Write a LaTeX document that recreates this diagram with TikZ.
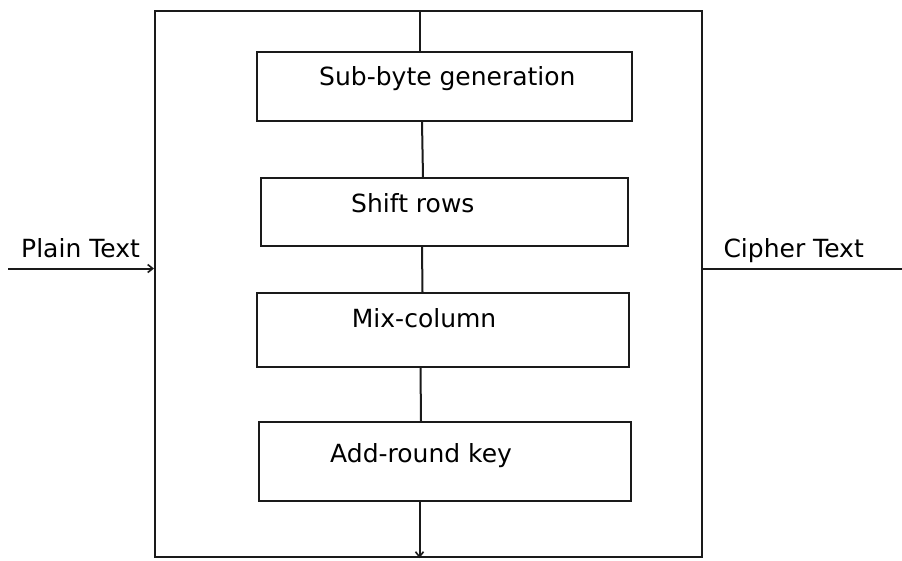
\documentclass[tikz,border=0pt]{standalone}
\usepackage{fontspec}
\setmainfont{DejaVu Sans}
\usetikzlibrary{arrows.meta,calc}
\definecolor{ink}{HTML}{1A1A1A}
\tikzset{
  stepbox/.style={draw=ink, line width=2pt, rectangle, inner sep=0pt},
  lbl/.style={anchor=base west, inner sep=0pt, text=black, font=\fontsize{25}{29}\selectfont},
  conn/.style={draw=ink, line width=2pt},
  arr/.style={conn, -{Straight Barb[length=5pt,width=8pt,line width=1.6pt]}}
}
\begin{document}
\begin{tikzpicture}[x=1pt,y=-1pt]
\useasboundingbox (0,0) rectangle (902,560);
% outer box
\node[stepbox, minimum width=547pt, minimum height=546pt] (outer) at (428.5,284) {};
% inner boxes
\node[stepbox, minimum width=375pt, minimum height=69pt] (b1) at (444.2,86.7) {};
\node[stepbox, minimum width=367pt, minimum height=67.5pt] (b2) at (444.4,212) {};
\node[stepbox, minimum width=372pt, minimum height=73.5pt] (b3) at (443.2,330) {};
\node[stepbox, minimum width=372pt, minimum height=79pt] (b4) at (445,461.7) {};
% texts
\node[lbl] (t1) at (319,85.7) {Sub-byte generation};
\node[lbl] (t2) at (351,212.3) {Shift rows};
\node[lbl] (t3) at (351.7,327.3) {Mix-column};
\node[lbl] (t4) at (330,462.3) {Add-round key};
\node[lbl] (pt) at (21,257.3) {Plain Text};
\node[lbl] (ct) at (723.3,257.3) {Cipher Text};
% endpoints
\coordinate (in) at (8,268.5);
\coordinate (outr) at (902,268.5);
% connectors
\draw[conn] (outer.north -| 419.5,0) -- (b1.north -| 419.5,0);
\draw[conn] (b1.south -| 422,0) -- (b2.north -| 423,0);
\draw[conn] (b2.south -| 422,0) -- (b3.north -| 422.5,0);
\draw[conn] (b3.south -| 420.5,0) -- (b4.north -| 421,0);
\draw[arr] (b4.south -| 419.5,0) -- (outer.south -| 419.5,0);
\draw[arr] (in) -- (outer.west |- in);
\draw[conn] (outer.east |- outr) -- (outr);
\end{tikzpicture}
\end{document}
